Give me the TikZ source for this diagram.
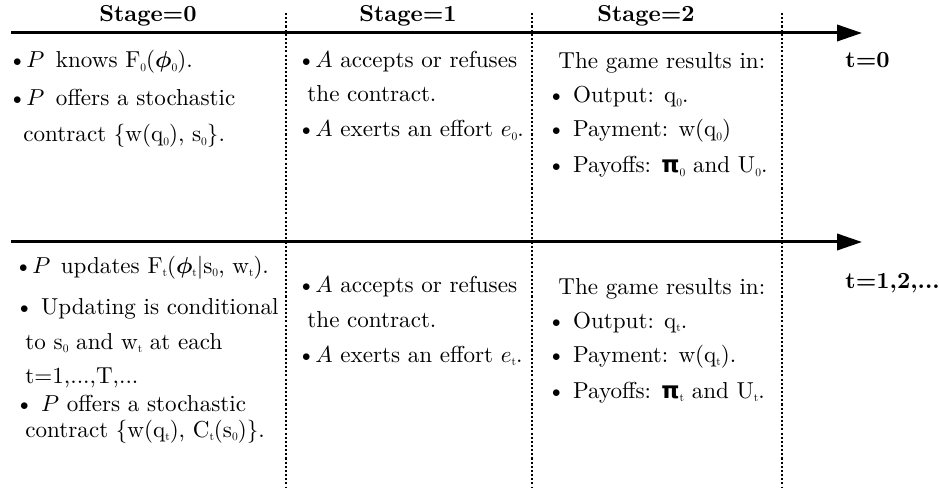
\documentclass[tikz,border=0pt]{standalone}
\usepackage{amsmath}
\usepackage{graphicx}
\usepackage{fontspec}
\newfontfamily\grk{DejaVu Sans}
\usetikzlibrary{arrows.meta}
\newcommand\sbs[1]{\raisebox{-1.6pt}{\scalebox{0.5}{#1}}}
\newcommand\bphi{\ensuremath{\boldsymbol{\phi}}}
\newcommand\bpi{{\grk\bfseries π}}
\tikzset{
  txt/.style={anchor=base west, inner sep=0pt, font=\fontsize{10}{12}\selectfont},
  hdr/.style={anchor=base, inner sep=0pt, font=\fontsize{10}{12}\selectfont\bfseries},
  axisline/.style={line width=1.3pt, -{Triangle[length=10.8pt,width=7pt]}},
  sepline/.style={line width=0.55pt, dash pattern=on 0.9pt off 0.9pt}
}
\begin{document}
\begin{tikzpicture}[x=0.4333pt,y=-0.4333pt]
\useasboundingbox (0,0) rectangle (939,488);
% separators
\coordinate (d1t) at (286,13); \coordinate (d1b) at (286,488);
\coordinate (d2t) at (532,13); \coordinate (d2b) at (532,488);
\coordinate (d3t) at (782,13); \coordinate (d3b) at (782,488);
\draw[sepline] (d1t) -- (d1b);
\draw[sepline] (d2t) -- (d2b);
\draw[sepline] (d3t) -- (d3b);
% axes
\coordinate (a0s) at (11,33); \coordinate (a0e) at (862,33);
\coordinate (a1s) at (11,242); \coordinate (a1e) at (862,242);
\draw[axisline] (a0s) -- (a0e);
\draw[axisline] (a1s) -- (a1e);
% headers
\node[hdr] (h0) at (148,22) {Stage=0};
\node[hdr] (h1) at (408,22) {Stage=1};
\node[hdr] (h2) at (646,22) {Stage=2};
\node[hdr, anchor=base west] (t0) at (845,68) {t=0};
\node[hdr, anchor=base west] (t1) at (845,288) {t=1,2,...};
% top row
\node[txt] (a1) at (8,68) {\textbullet$P$\hspace{5pt}knows F\sbs{0}(\bphi\sbs{0}).};
\node[txt] (a2) at (8,106) {\textbullet$P$\hspace{5pt}offers a stochastic};
\node[txt] (a3) at (23,142) {contract $\{$w(q\sbs{0}), s\sbs{0}$\}$.};
\node[txt] (b1) at (297,68) {\textbullet$A$ accepts or refuses};
\node[txt] (b2) at (307,102) {the contract.};
\node[txt] (b3) at (297,137) {\textbullet$A$ exerts an effort $e$\sbs{0}.};
\node[txt] (c1) at (558,69) {The game results in:};
\node[txt] (c2) at (547,103) {\textbullet\ Output: q\sbs{0}.};
\node[txt] (c3) at (547,137) {\textbullet\ Payment: w(q\sbs{0})};
\node[txt] (c4) at (547,173) {\textbullet\ Payoffs: \bpi\sbs{0} and U\sbs{0}.};
% bottom row
\node[txt] (d1) at (14,273) {\textbullet$P$\hspace{4.5pt}updates F\sbs{t}(\bphi\sbs{t}$|$s\sbs{0}, w\sbs{t}).};
\node[txt] (d2) at (15,314) {\textbullet\ Updating is conditional};
\node[txt] (d3) at (25,349) {to s\sbs{0} and w\sbs{t} at each};
\node[txt] (d4) at (25,383) {t=1,...,T,...};
\node[txt] (d5) at (15,411) {\textbullet\ $P$ offers a stochastic};
\node[txt] (d6) at (25,437) {contract $\{$w(q\sbs{t}), C\sbs{t}(s\sbs{0})$\}$.};
\node[txt] (e1) at (297,293) {\textbullet$A$ accepts or refuses};
\node[txt] (e2) at (307,327) {the contract.};
\node[txt] (e3) at (297,362) {\textbullet$A$ exerts an effort $e$\sbs{t}.};
\node[txt] (f1) at (558,294) {The game results in:};
\node[txt] (f2) at (547,328) {\textbullet\ Output: q\sbs{t}.};
\node[txt] (f3) at (547,362) {\textbullet\ Payment: w(q\sbs{t}).};
\node[txt] (f4) at (547,398) {\textbullet\ Payoffs: \bpi\sbs{t} and U\sbs{t}.};
\end{tikzpicture}
\end{document}
